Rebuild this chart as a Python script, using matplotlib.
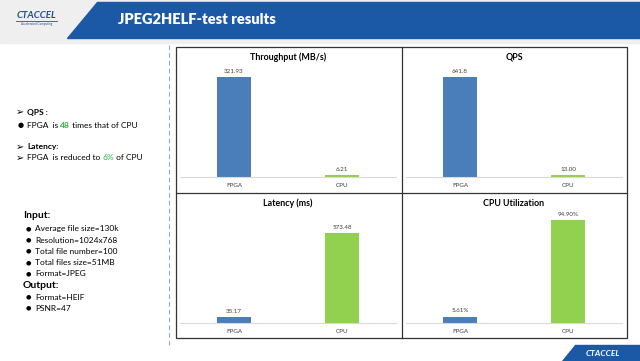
import matplotlib.pyplot as plt
from matplotlib.patches import Polygon, Rectangle

plt.rcParams['font.family'] = ['Lato', 'DejaVu Sans']

W, H = 640, 361

# datos de los cuatro paneles
categorias = ['FPGA', 'CPU']
throughput = [321.93, 6.21]
qps = [641.8, 13.00]
latencia = [35.17, 573.48]
uso_cpu = [5.61, 94.90]

etiquetas_throughput = ['321.93', '6.21']
etiquetas_qps = ['641.8', '13.00']
etiquetas_latencia = ['35.17', '573.48']
etiquetas_uso_cpu = ['5.61%', '94.90%']

titulos = ['Throughput (MB/s)', 'QPS', 'Latency (ms)', 'CPU Utilization']

# texto de la izquierda
entrada = ['Average file size=130k', 'Resolution=1024x768', 'Total file number=100',
           'Total files size=51MB', 'Format=JPEG']
salida = ['Format=HEIF', 'PSNR=47']

AZUL = '#4a7ebb'
VERDE = '#92d050'
AZUL_HEADER = '#1b58a5'
VERDE_TXT = '#2fb34a'

fig = plt.figure(figsize=(W / 100, H / 100), dpi=100)
fondo = fig.add_axes([0, 0, 1, 1])
fondo.set_xlim(0, W)
fondo.set_ylim(H, 0)
fondo.axis('off')

# cabecera
fondo.add_patch(Rectangle((0, 0), W, 43, color='#efefef', zorder=0))
fondo.add_patch(Polygon([(97, 2), (W, 2), (W, 38), (67, 38)], closed=True,
                        color=AZUL_HEADER, zorder=1))
fondo.text(118, 20, 'JPEG2HELF-test results', color='white', fontsize=10.5,
           fontweight='heavy', va='center', ha='left', zorder=2)
fondo.text(36, 16, 'CTACCEL', color='#1e4f9c', fontsize=7, fontweight='bold',
           fontstyle='italic', ha='center', va='center')
fondo.plot([16, 57], [20.5, 20.5], color='#1e4f9c', lw=0.6)
fondo.text(37, 23.5, 'Accelerated Computing', color='#1e4f9c', fontsize=2.2,
           ha='center', va='center')

# logo inferior
fondo.add_patch(Polygon([(575, 345), (W, 345), (W, H), (562, H)], closed=True,
                        color=AZUL_HEADER))
fondo.text(603, 353, 'CTACCEL', color='white', fontsize=6, fontweight='bold',
           fontstyle='italic', ha='center', va='center')

# línea discontinua
fondo.plot([169, 169], [45, 345], color='#8fa9c9', lw=0.8, ls=(0, (4, 3)))

# bordes de los paneles
x0, x1, xm = 176, 627, 402
y0, y1, ym = 47, 338, 193
fondo.add_patch(Rectangle((x0, y0), x1 - x0, y1 - y0, fill=False,
                          edgecolor='#333333', lw=0.9))
fondo.plot([xm, xm], [y0, y1], color='#333333', lw=0.9)
fondo.plot([x0, x1], [ym, ym], color='#333333', lw=0.9)

# texto izquierdo
fs = 6
flecha = dict(fontsize=7, va='center', family=['DejaVu Sans'])
fondo.text(16, 112, '➢', **flecha)
fondo.text(27, 112, 'QPS :', fontsize=fs, fontweight='bold', va='center')
fondo.text(18, 125, '●', fontsize=fs - 1, va='center', family=['DejaVu Sans'])
t = fondo.text(27, 125, 'FPGA  is ', fontsize=fs, va='center')
fig.canvas.draw()


def seguir(txt_prev, s, **kw):
    bb = txt_prev.get_window_extent()
    x = fondo.transData.inverted().transform((bb.x1, bb.y0))[0]
    y = txt_prev.get_position()[1]
    nuevo = fondo.text(x, y, s, fontsize=fs, va='center', **kw)
    fig.canvas.draw()
    return nuevo


t = seguir(t, '48', color=VERDE_TXT, fontweight='bold')
seguir(t, ' times that of CPU')

fondo.text(16, 147, '➢', **flecha)
fondo.text(27, 147, 'Latency:', fontsize=fs, fontweight='bold', va='center')
fondo.text(16, 158, '➢', **flecha)
t = fondo.text(27, 158, 'FPGA  is reduced to ', fontsize=fs, va='center')
fig.canvas.draw()
t = seguir(t, '6%', color=VERDE_TXT)
seguir(t, ' of CPU')

fondo.text(23, 216, 'Input:', fontsize=7.5, fontweight='bold', va='center')
for i, linea in enumerate(entrada):
    y = 229 + i * 11.2
    fondo.text(26, y, '●', fontsize=fs - 1.5, va='center', family=['DejaVu Sans'])
    fondo.text(35, y, linea, fontsize=fs, va='center')
fondo.text(23, 285, 'Output:', fontsize=7.5, fontweight='bold', va='center')
for i, linea in enumerate(salida):
    y = 297 + i * 11.2
    fondo.text(26, y, '●', fontsize=fs - 1.5, va='center', family=['DejaVu Sans'])
    fondo.text(35, y, linea, fontsize=fs, va='center')


def ejes(px_izq, px_der, px_arriba, px_base):
    return fig.add_axes([px_izq / W, 1 - px_base / H,
                         (px_der - px_izq) / W, (px_base - px_arriba) / H])


paneles = [
    (throughput, etiquetas_throughput, (180, 396), 57, 177, 77),
    (qps, etiquetas_qps, (406, 622), 57, 177, 77),
    (latencia, etiquetas_latencia, (180, 396), 203, 323, 233),
    (uso_cpu, etiquetas_uso_cpu, (406, 622), 203, 323, 220),
]

for (valores, etiquetas, (xa, xb), y_tit, base, tope), titulo in zip(paneles, titulos):
    arriba = base - 110
    ax = ejes(xa, xb, arriba, base)
    ax.bar(range(len(categorias)), valores, width=0.31, color=[AZUL, VERDE])
    ax.set_xlim(-0.5, 1.5)
    ax.set_ylim(0, max(valores) * 110 / (base - tope))
    for i, (v, e) in enumerate(zip(valores, etiquetas)):
        ax.annotate(e, (i, v), xytext=(0, 2.5), textcoords='offset points',
                    ha='center', va='bottom', fontsize=4.5, color='#404040')
    ax.set_xticks(range(len(categorias)))
    ax.set_xticklabels(categorias, fontsize=4.5, color='#404040')
    ax.tick_params(axis='x', length=0, pad=4)
    ax.set_yticks([])
    for lado in ['top', 'right', 'left']:
        ax.spines[lado].set_visible(False)
    ax.spines['bottom'].set_color('#d9d9d9')
    ax.spines['bottom'].set_linewidth(0.8)
    ax.patch.set_alpha(0)
    fondo.text((xa + xb) / 2, y_tit, titulo, fontsize=6.4, fontweight='bold',
               ha='center', va='center')

fig.savefig('out.png', dpi=100)
